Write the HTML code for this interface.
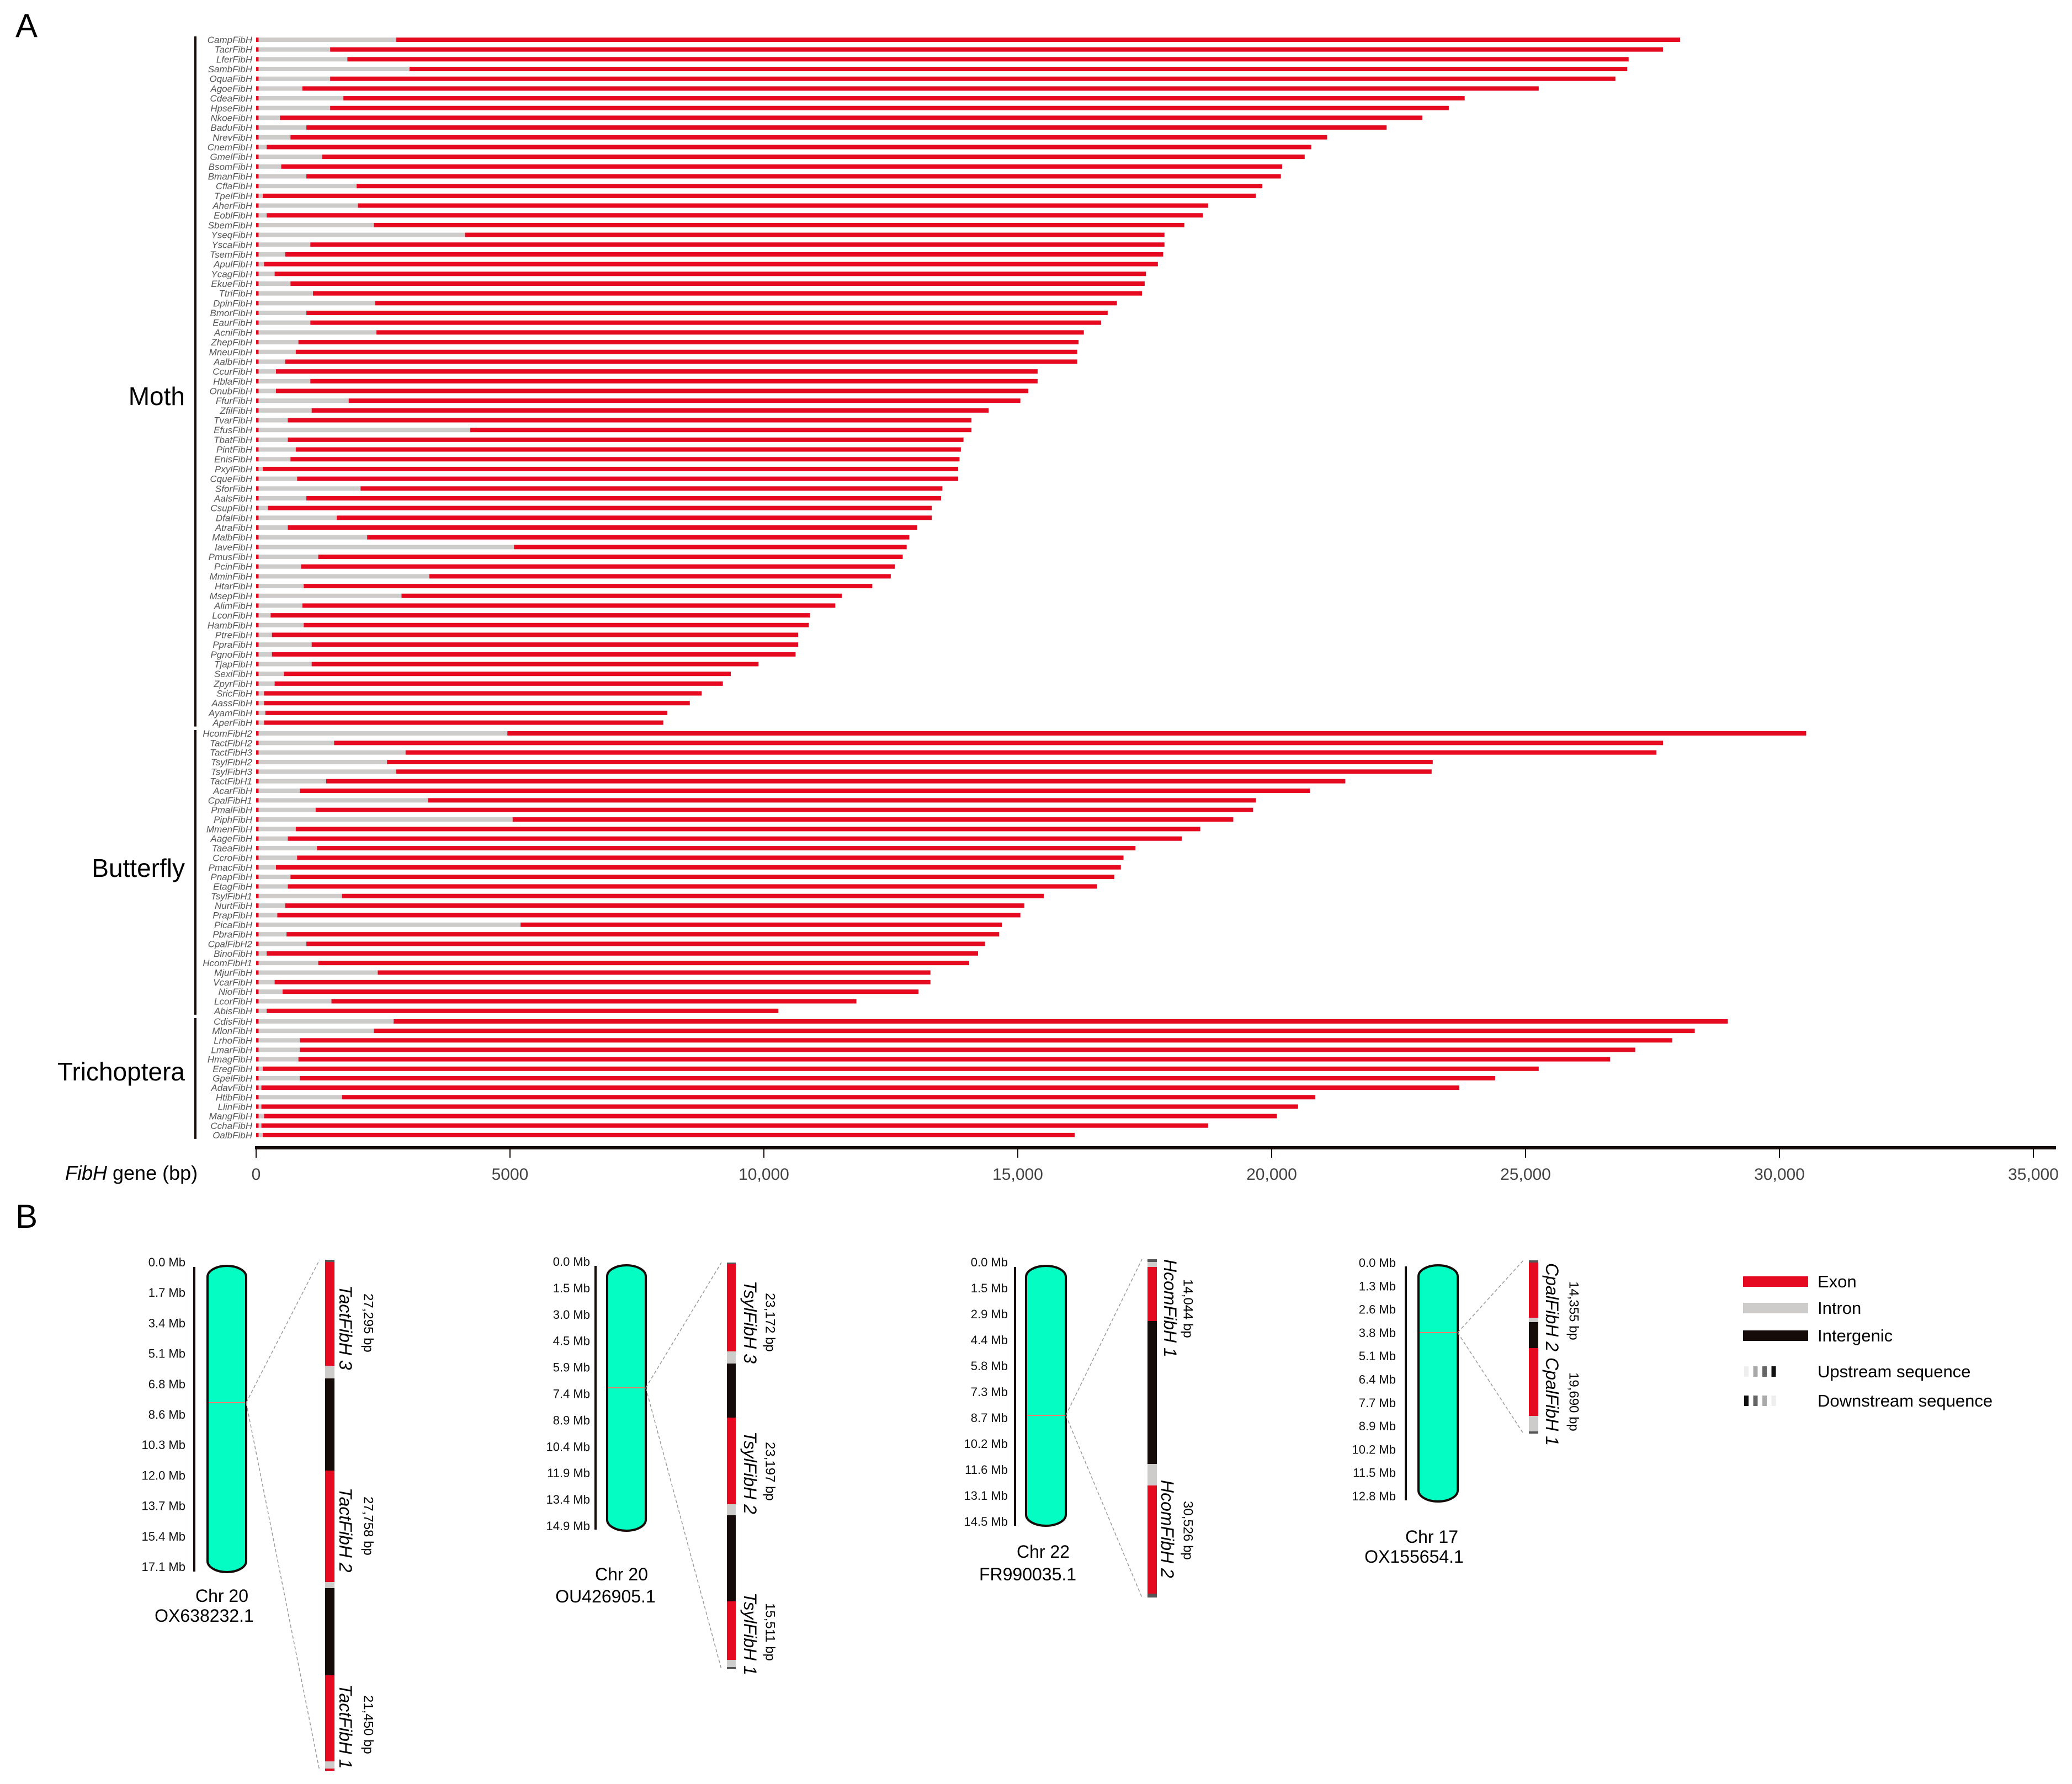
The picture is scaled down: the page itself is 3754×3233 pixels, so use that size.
<!DOCTYPE html>
<html><head><meta charset="utf-8"><style>
html,body{margin:0;padding:0;background:#fff;}
svg{display:block;font-family:"Liberation Sans",Arial,sans-serif;}
</style></head><body>
<svg id="fig" xmlns="http://www.w3.org/2000/svg" width="3754" height="3233" viewBox="0 0 3754 3233">
<rect x="0" y="0" width="3754" height="3233" fill="#fff"/>
<text x="28" y="67" font-size="60">A</text>
<text x="28" y="2225" font-size="60">B</text>
<g id="chartA"></g>
<g id="panelB"></g>
<g id="legend"></g>
</svg>
<script>
const names=["CampFibH","TacrFibH","LferFibH","SambFibH","OquaFibH","AgoeFibH","CdeaFibH","HpseFibH","NkoeFibH","BaduFibH","NrevFibH","CnemFibH","GmelFibH","BsomFibH","BmanFibH","CflaFibH","TpelFibH","AherFibH","EoblFibH","SbemFibH","YseqFibH","YscaFibH","TsemFibH","ApulFibH","YcagFibH","EkueFibH","TtriFibH","DpinFibH","BmorFibH","EaurFibH","AcniFibH","ZhepFibH","MneuFibH","AalbFibH","CcurFibH","HblaFibH","OnubFibH","FfurFibH","ZfilFibH","TvarFibH","EfusFibH","TbatFibH","PintFibH","EnisFibH","PxylFibH","CqueFibH","SforFibH","AalsFibH","CsupFibH","DfalFibH","AtraFibH","MalbFibH","IaveFibH","PmusFibH","PcinFibH","MminFibH","HtarFibH","MsepFibH","AlimFibH","LconFibH","HambFibH","PtreFibH","PpraFibH","PgnoFibH","TjapFibH","SexiFibH","ZpyrFibH","SricFibH","AassFibH","AyamFibH","AperFibH",
"HcomFibH2","TactFibH2","TactFibH3","TsylFibH2","TsylFibH3","TactFibH1","AcarFibH","CpalFibH1","PmalFibH","PiphFibH","MmenFibH","AageFibH","TaeaFibH","CcroFibH","PmacFibH","PnapFibH","EtagFibH","TsylFibH1","NurtFibH","PrapFibH","PicaFibH","PbraFibH","CpalFibH2","BinoFibH","HcomFibH1","MjurFibH","VcarFibH","NioFibH","LcorFibH","AbisFibH",
"CdisFibH","MlonFibH","LrhoFibH","LmarFibH","HmagFibH","EregFibH","GpelFibH","AdavFibH","HtibFibH","LlinFibH","MangFibH","CchaFibH","OalbFibH"];
const geneLength=[28045,27707,27030,27003,26769,25259,23801,23488,22967,22264,21092,20780,20650,20207,20181,19816,19686,18749,18645,18280,17889,17889,17863,17759,17525,17499,17447,16952,16770,16640,16301,16197,16171,16171,15390,15390,15207,15051,14426,14088,14088,13931,13879,13853,13827,13827,13515,13489,13306,13306,13020,12864,12812,12734,12577,12499,12135,11536,11406,10911,10885,10676,10676,10624,9895,9348,9192,8775,8541,8098,8020,
30526,27707,27576,23172,23150,21450,20754,19690,19634,19244,18593,18228,17317,17082,17030,16900,16561,15511,15129,15051,14687,14634,14355,14218,14044,13280,13280,13046,11822,10286,
28983,28332,27889,27160,26665,25259,24400,23696,20858,20520,20103,18749,16119];
const intronEnd=[2760,1458,1797,3021,1458,911,1719,1458,469,990,677,208,1302,495,990,1979,130,2005,208,2318,4114,1068,573,156,365,677,1120,2344,990,1068,2370,833,781,573,391,1068,391,1823,1094,625,4218,625,781,677,130,807,2057,990,234,1588,625,2187,5078,1224,885,3411,937,2864,911,286,937,312,1094,312,1094,547,365,156,156,182,156,
4948,1536,2943,2578,2760,1380,859,3385,1172,5052,781,625,1198,807,391,677,625,1693,573,417,5208,599,990,208,1224,2396,365,521,1484,208,
2708,2318,859,859,833,130,859,104,1693,104,156,104,130];
const firstExon=[50];
const groupNames=["Moth","Butterfly","Trichoptera"];
const groupSizes=[71,30,13];
const tickValues=[0,5000,10000,15000,20000,25000,30000,35000];
const tickLabels=["0","5000","10,000","15,000","20,000","25,000","30,000","35,000"];

const NS="http://www.w3.org/2000/svg";
function mk(tag,attrs,parent){const e=document.createElementNS(NS,tag);for(const k in attrs)e.setAttribute(k,attrs[k]);parent.appendChild(e);return e;}
const RED="#e50a1f",GRAY="#cecccb",BLK="#150b08",TEAL="#03fdc2";
const x0=464,xMaxPx=3684,xMax=35000;
function xScale(v){return x0+v*(xMaxPx-x0)/xMax;}
const groupStartY=[72,1329,1851];
const groupStep=[17.68,17.34,17.16];
const groupLabelY=[734,1589,1958];
function yRow(i){
  let s=0;
  for(let g=0;g<groupSizes.length;g++){
    if(i<s+groupSizes[g]) return groupStartY[g]+(i-s)*groupStep[g];
    s+=groupSizes[g];
  }
  return 0;
}
const A=document.getElementById('chartA');
const barH=8;
for(let i=0;i<names.length;i++){
  const y=yRow(i);
  const lab=mk('text',{x:457,y:y+6,'font-size':17,'font-style':'italic','text-anchor':'end',fill:'#555'},A);
  lab.textContent=names[i];
  
  
  const g=mk('g',{},A);
  
  
  const r1=mk('rect',{x:xScale(0),y:y-barH/2,width:xScale(firstExon[0])-xScale(0),height:barH,fill:RED},g);
  
  
  const r2=mk('rect',{x:xScale(firstExon[0]),y:y-barH/2,width:Math.max(0,xScale(intronEnd[i])-xScale(firstExon[0])),height:barH,fill:GRAY},g);
  
  
  const r3=mk('rect',{x:xScale(intronEnd[i]),y:y-barH/2,width:Math.max(0,xScale(geneLength[i])-xScale(intronEnd[i])),height:barH,fill:RED},g);
  
  
}
let start=0;
for(let gi=0;gi<groupNames.length;gi++){
  const a=start,b=start+groupSizes[gi]-1;
  const y1=yRow(a)-6,y2=yRow(b)+7;
  const ln=mk('line',{x1:354,x2:354,y1:y1,y2:y2,stroke:BLK,'stroke-width':4},A);
  
  
  const t=mk('text',{x:335,y:groupLabelY[gi],'font-size':46,'text-anchor':'end',fill:'#000'},A);
  t.textContent=groupNames[gi];
  
  
  start+=groupSizes[gi];
}
const ax=mk('rect',{x:462,y:2077,width:3263,height:6,fill:BLK},A);


for(let k=0;k<tickValues.length;k++){
  const tx=xScale(tickValues[k]);
  const tk=mk('line',{x1:tx,x2:tx,y1:2080,y2:2098,stroke:BLK,'stroke-width':2},A);
  
  
  const tl=mk('text',{x:tx,y:2138,'font-size':30,'text-anchor':'middle',fill:'#444'},A);
  tl.textContent=tickLabels[k];
  
  
}
const xt=mk('text',{x:118,y:2138,'font-size':36,fill:'#000'},A);


xt.innerHTML='<tspan font-style="italic">FibH</tspan> gene (bp)';

const B=document.getElementById('panelB');
function drawChr(c){
  const g=mk('g',{},B);
  
  
  const n=c.mb.length;
  for(let i=0;i<n;i++){
    const y=c.lt+(c.lb-c.lt)*i/(n-1);
    const t=mk('text',{x:c.lx,y:y+8,'font-size':22,'text-anchor':'end',fill:'#111'},g);
    t.textContent=c.mb[i];
    
    
  }
  const al=mk('rect',{x:c.ax-2,y:c.at,width:4,height:c.ab-c.at,fill:BLK},g);
  
  
  const w=c.cx2-c.cx1;
  const ch=mk('rect',{x:c.cx1,y:c.ct,width:w,height:c.cb-c.ct,rx:w/2,ry:Math.min(w/2,20),fill:TEAL,stroke:BLK,'stroke-width':4},g);
  
  
  const mkr=mk('line',{x1:c.cx1+2,x2:c.cx2-2,y1:c.my,y2:c.my,stroke:'#e88070','stroke-width':2},g);
  
  
  const d1=mk('line',{x1:c.cx2,y1:c.my,x2:c.bx1-10,y2:c.segs[0][0],stroke:'#999','stroke-width':1.5,'stroke-dasharray':'6,4'},g);
  
  
  const d2=mk('line',{x1:c.cx2,y1:c.my,x2:c.bx1-10,y2:c.segs[c.segs.length-1][1],stroke:'#999','stroke-width':1.5,'stroke-dasharray':'6,4'},g);
  
  
  for(const s of c.segs){
    const r=mk('rect',{x:c.bx1,y:s[0],width:c.bx2-c.bx1,height:s[1]-s[0],fill:s[2]},g);
    
    
  }
  for(const gl of c.genes){
    const t=mk('text',{transform:`translate(${gl[0]},${gl[1]}) rotate(90)`,'font-size':gl[3],'font-style':gl[4]?'italic':'normal','dominant-baseline':'central',fill:'#000'},g);
    t.textContent=gl[2];
    
    
  }
  const t1=mk('text',{x:c.tx,y:c.ty1,'font-size':32,'text-anchor':'middle',fill:'#000'},g);
  t1.textContent=c.chr;
  
  
  const t2=mk('text',{x:c.tx2,y:c.ty2,'font-size':32,'text-anchor':'middle',fill:'#000'},g);
  t2.textContent=c.acc;
  
  
}
const DG="#555";
drawChr({mb:["0.0 Mb","1.7 Mb","3.4 Mb","5.1 Mb","6.8 Mb","8.6 Mb","10.3 Mb","12.0 Mb","13.7 Mb","15.4 Mb","17.1 Mb"],
 lx:336,lt:2287,lb:2839,ax:352,at:2296,ab:2848,cx1:376,cx2:446,ct:2294,cb:2849,my:2542,bx1:589,bx2:606,
 segs:[[2283,2287,DG],[2287,2475,RED],[2475,2498,GRAY],[2498,2665,BLK],[2665,2867,RED],[2867,2878,GRAY],[2878,3036,BLK],[3036,3192,RED],[3192,3205,GRAY],[3205,3209,RED]],
 genes:[[626,2329,"TactFibH 3",32,1],[667,2344,"27,295 bp",24,0],[626,2696,"TactFibH 2",32,1],[667,2712,"27,758 bp",24,0],[626,3052,"TactFibH 1",32,1],[667,3072,"21,450 bp",24,0]],
 chr:"Chr 20",acc:"OX638232.1",tx:402,ty1:2903,tx2:370,ty2:2939});
drawChr({mb:["0.0 Mb","1.5 Mb","3.0 Mb","4.5 Mb","5.9 Mb","7.4 Mb","8.9 Mb","10.4 Mb","11.9 Mb","13.4 Mb","14.9 Mb"],
 lx:1069,lt:2286,lb:2765,ax:1079,at:2294,ab:2772,cx1:1100,cx2:1170,ct:2293,cb:2774,my:2515,bx1:1317,bx2:1333,
 segs:[[2288,2291,DG],[2291,2449,RED],[2449,2471,GRAY],[2471,2569,BLK],[2569,2726,RED],[2726,2746,GRAY],[2746,2902,BLK],[2902,3008,RED],[3008,3021,GRAY],[3021,3025,DG]],
 genes:[[1359,2321,"TsylFibH 3",32,1],[1395,2343,"23,172 bp",24,0],[1359,2594,"TsylFibH 2",32,1],[1395,2613,"23,197 bp",24,0],[1359,2886,"TsylFibH 1",32,1],[1395,2905,"15,511 bp",24,0]],
 chr:"Chr 20",acc:"OU426905.1",tx:1126,ty1:2864,tx2:1097,ty2:2904});
drawChr({mb:["0.0 Mb","1.5 Mb","2.9 Mb","4.4 Mb","5.8 Mb","7.3 Mb","8.7 Mb","10.2 Mb","11.6 Mb","13.1 Mb","14.5 Mb"],
 lx:1826,lt:2287,lb:2757,ax:1839,at:2296,ab:2765,cx1:1859,cx2:1931,ct:2294,cb:2765,my:2565,bx1:2079,bx2:2096,
 segs:[[2282,2287,DG],[2287,2296,GRAY],[2296,2394,RED],[2394,2653,BLK],[2653,2692,GRAY],[2692,2888,RED],[2888,2895,DG]],
 genes:[[2120,2282,"HcomFibH 1",32,1],[2152,2318,"14,044 bp",24,0],[2115,2682,"HcomFibH 2",32,1],[2152,2720,"30,526 bp",24,0]],
 chr:"Chr 22",acc:"FR990035.1",tx:1890,ty1:2823,tx2:1862,ty2:2864});
drawChr({mb:["0.0 Mb","1.3 Mb","2.6 Mb","3.8 Mb","5.1 Mb","6.4 Mb","7.7 Mb","8.9 Mb","10.2 Mb","11.5 Mb","12.8 Mb"],
 lx:2529,lt:2288,lb:2711,ax:2547,at:2295,ab:2719,cx1:2570,cx2:2641,ct:2293,cb:2721,my:2415,bx1:2770,bx2:2787,
 segs:[[2284,2288,DG],[2288,2388,RED],[2388,2396,GRAY],[2396,2443,BLK],[2443,2566,RED],[2566,2594,GRAY],[2594,2598,DG]],
 genes:[[2812,2289,"CpalFibH 2",32,1],[2851,2322,"14,355 bp",24,0],[2812,2460,"CpalFibH 1",32,1],[2851,2487,"19,690 bp",24,0]],
 chr:"Chr 17",acc:"OX155654.1",tx:2594,ty1:2796,tx2:2562,ty2:2832});

const L=document.getElementById('legend');
const legItems=[["Exon",RED],["Intron",GRAY],["Intergenic",BLK]];
const legY=[2322,2370,2420];
for(let i=0;i<3;i++){
  const r=mk('rect',{x:3158,y:legY[i]-9,width:118,height:19,fill:legItems[i][1]},L);
  
  
  const t=mk('text',{x:3293,y:legY[i]+11,'font-size':31,fill:'#000'},L);
  t.textContent=legItems[i][0];
  
  
}
const upC=["#eee","#aaa","#666","#111"];
const ys=[2485,2538];
for(let j=0;j<2;j++){
  for(let k=0;k<4;k++){
    const col=j==0?upC[k]:upC[3-k];
    const r=mk('rect',{x:3160+k*16.5,y:ys[j]-9,width:8,height:19,fill:col},L);
    
    
  }
  const t=mk('text',{x:3293,y:ys[j]+11,'font-size':31,fill:'#000'},L);
  t.textContent=j==0?"Upstream sequence":"Downstream sequence";
  
  
}
</script>
</body></html>
